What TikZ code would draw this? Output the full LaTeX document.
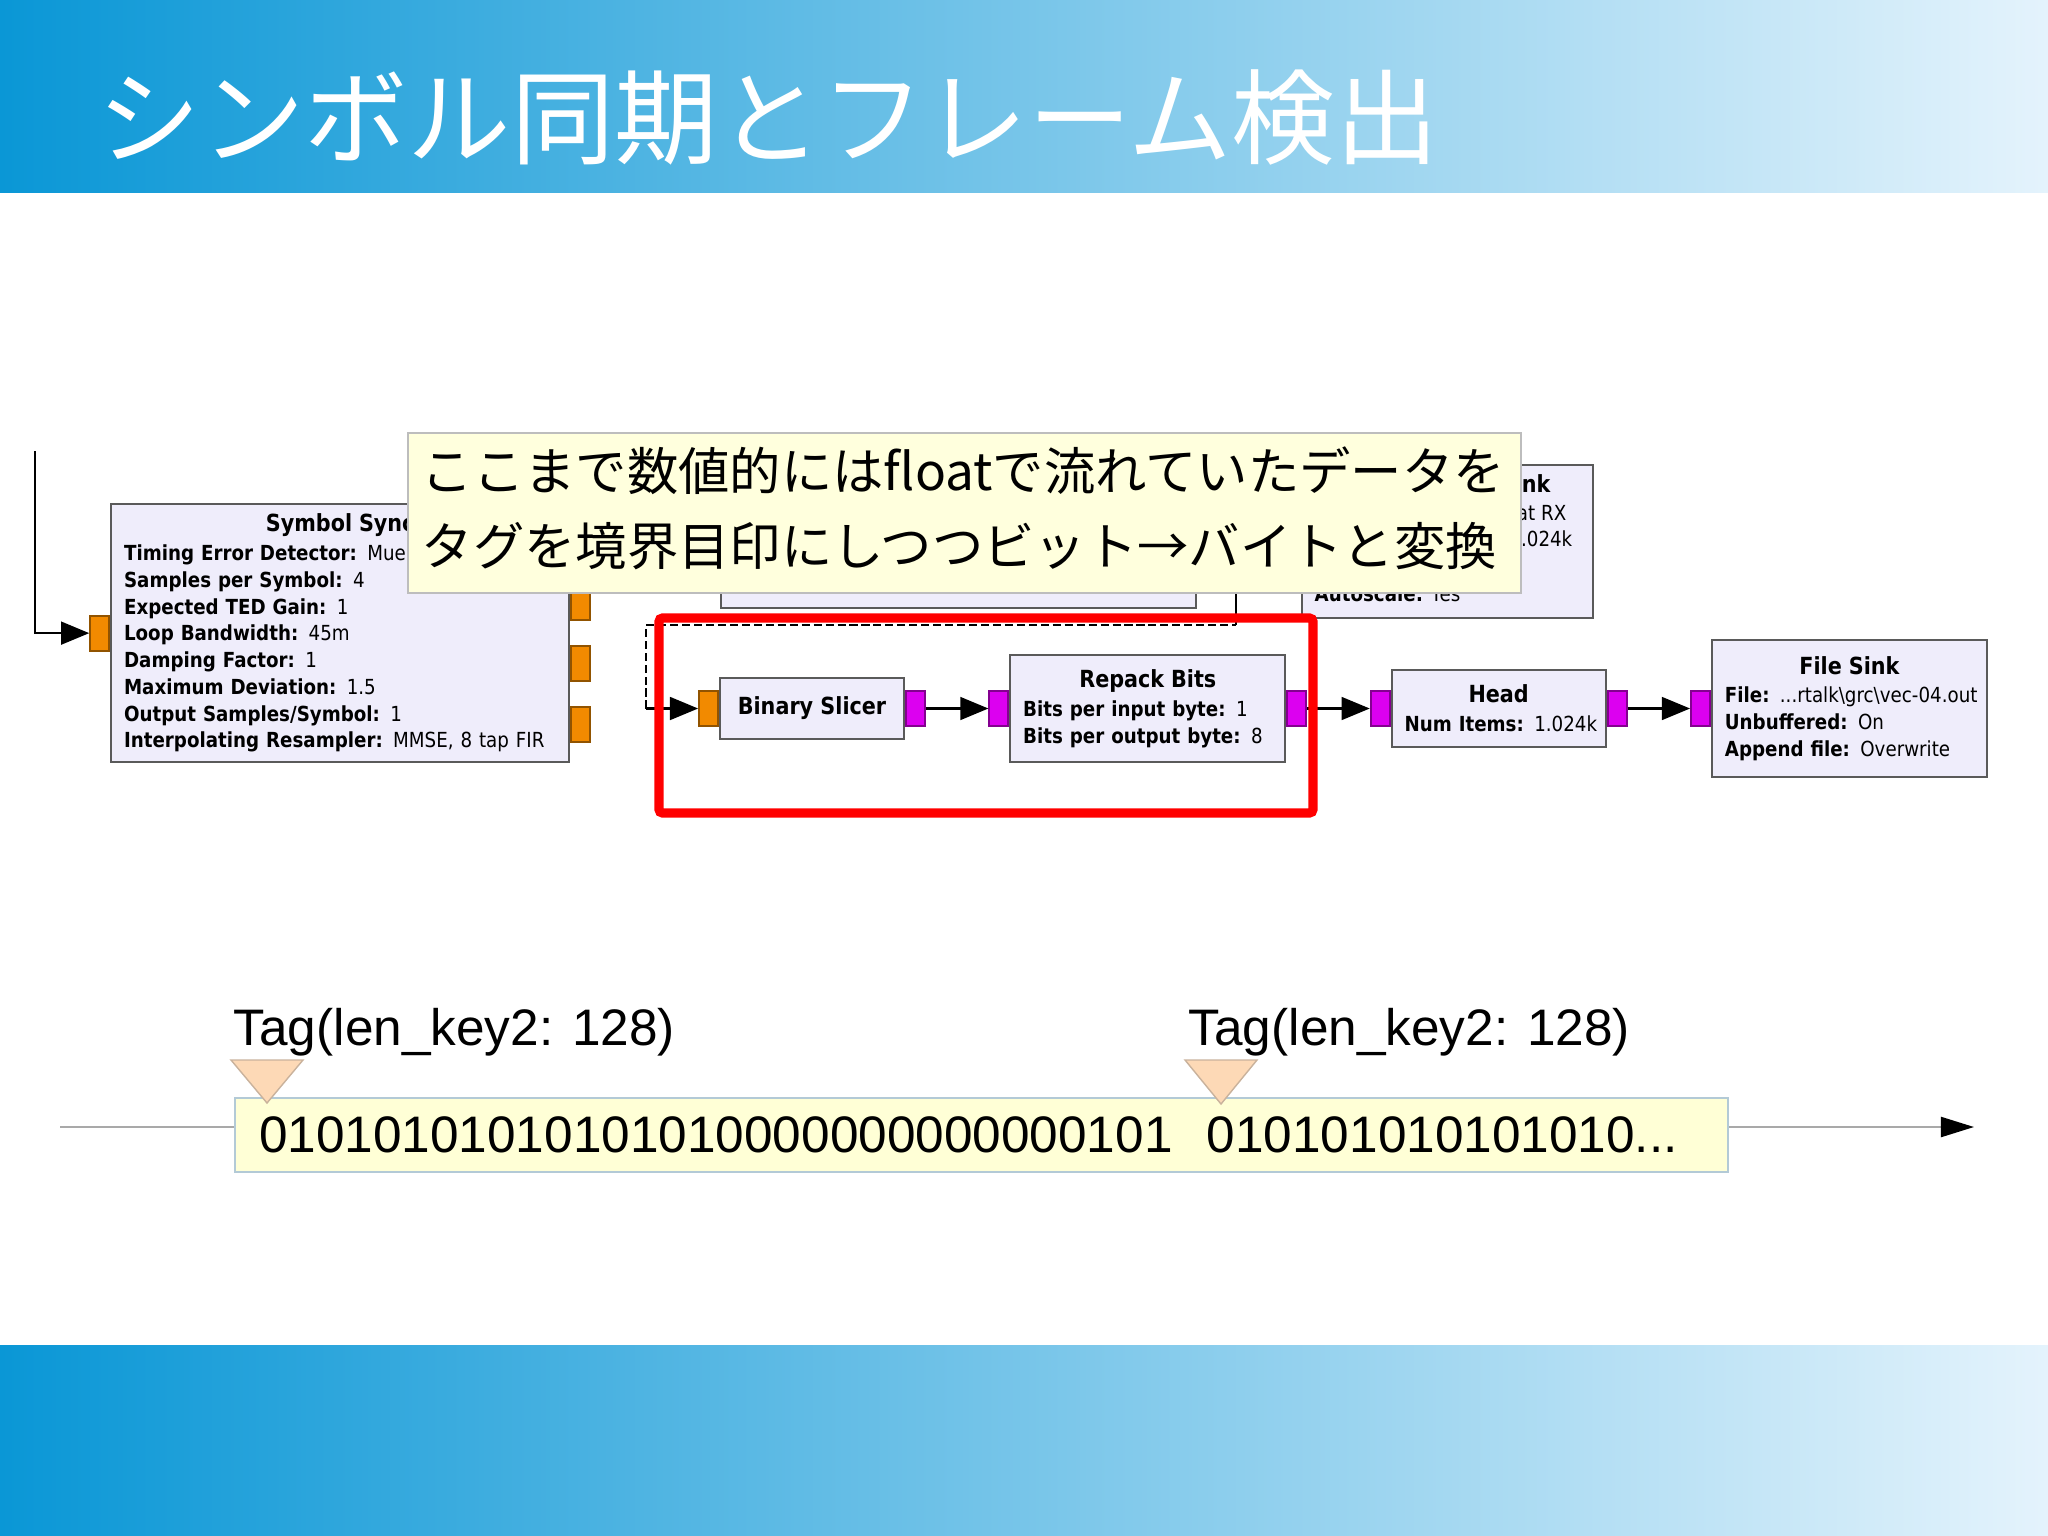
\documentclass[tikz,border=0pt]{standalone}
\usepackage{fontspec}
\setmainfont{Liberation Sans}
\newfontfamily\jpfont{Noto Sans CJK JP}
\newfontfamily\grcfont[FakeStretch=0.88]{DejaVu Sans}
\usepackage{tikz}
\usetikzlibrary{arrows.meta, positioning}
\setlength{\parindent}{0pt}

\definecolor{hdrdeep}{HTML}{0A97D6}
\definecolor{hdrpale}{HTML}{E4F3FC}
\definecolor{grcfill}{HTML}{EFEDFB}
\definecolor{grcedge}{HTML}{5A5A5A}
\definecolor{floatport}{HTML}{F28A00}
\definecolor{byteport}{HTML}{DC00F0}
\definecolor{notefill}{HTML}{FFFFDD}
\definecolor{noteedge}{HTML}{BDBDBD}
\definecolor{bitsfill}{HTML}{FFFFD6}
\definecolor{bitsedge}{HTML}{B3CAD6}
\definecolor{tagfill}{HTML}{FDD9B6}
\definecolor{tagedge}{HTML}{C9B29C}
\definecolor{axisgray}{HTML}{A9A9A9}

% block titles and parameter lines
\newcommand{\grcname}[1]{{\fontsize{6.7pt}{7.6pt}\selectfont\bfseries #1}}
\newcommand{\grctitle}[1]{\hfill\grcname{#1}\hfill\null}
\newcommand{\grckv}[2]{\mbox{\textbf{#1:} #2}}

\tikzset{
  % Flowgraph blocks
  grcblock/.style={
    rectangle, draw=grcedge, fill=grcfill, line width=0.6pt,
    inner xsep=0.13cm, inner ysep=0pt, align=left,
    font=\grcfont\fontsize{5.9pt}{7.6pt}\selectfont,
  },
  grctext/.style={inner sep=0pt, font=\grcfont\fontsize{5.9pt}{7.6pt}\selectfont},
  % Ports
  grcport/.style={
    rectangle, draw=#1!60!black, fill=#1, line width=0.5pt,
    minimum width=0.19cm, minimum height=0.35cm, inner sep=0pt,
  },
  grcport/.default={floatport},
  % Connections
  flow/.style={-{Triangle[length=8pt, width=6.5pt]}, line width=0.6pt, black},
  msgline/.style={line width=0.45pt, dash pattern=on 2.3pt off 1.1pt},
  wire/.style={line width=0.6pt},
  % Callout and highlight
  note/.style={rectangle, draw=noteedge, fill=notefill, line width=0.6pt, inner sep=0pt},
  notetext/.style={inner sep=0pt, font=\jpfont\fontsize{14.6pt}{21pt}\selectfont},
  hilite/.style={draw=red, line width=2.6pt, rounded corners=1pt},
  % Tagged stream
  bitsbox/.style={
    rectangle, draw=bitsedge, fill=bitsfill, line width=0.6pt,
    inner xsep=0.24cm, inner ysep=0pt, align=left,
    font=\fontsize{14.6pt}{17pt}\selectfont,
  },
  taglabel/.style={inner sep=0pt, font=\fontsize{14.6pt}{17pt}\selectfont},
  tagmark/.style={fill=tagfill, draw=tagedge, line width=0.4pt},
  timeline/.style={draw=axisgray, line width=0.6pt,
    -{Triangle[length=9.4pt, width=5.7pt, color=black]}},
  slidetitle/.style={inner sep=0pt, text=white, font=\jpfont\fontsize{29.4pt}{34pt}\selectfont},
}

\begin{document}
\begin{tikzpicture}[x=0.01cm, y=-0.01cm, node distance=1.04cm]
  \useasboundingbox (0,0) rectangle (2048,1536);

  % Header and footer bands
  \shade[left color=hdrdeep, right color=hdrpale] (0,0) rectangle (2048,192);
  \shade[left color=hdrdeep, right color=hdrpale] (0,1345) rectangle (2048,1536);
  \node[slidetitle, anchor=base west] (title) at (97,156) {シンボル同期とフレーム検出};

  % Symbol Sync
  \node[grcblock, text width=4.32cm, minimum height=2.58cm, anchor=north west] (sync) at (110,503) {
    \grctitle{Symbol Sync}\\[0.6pt]
    \grckv{Timing Error Detector}{Mueller and Müller}\\
    \grckv{Samples per Symbol}{4}\\
    \grckv{Expected TED Gain}{1}\\
    \grckv{Loop Bandwidth}{45m}\\
    \grckv{Damping Factor}{1}\\
    \grckv{Maximum Deviation}{1.5}\\
    \grckv{Output Samples/Symbol}{1}\\
    \grckv{Interpolating Resampler}{MMSE, 8 tap FIR}
  };
  \node[grcport, left=0pt of sync] (syncin) {};
  \node[grcport, anchor=west] (syncout1) at ([yshift=3.05mm]sync.east) {};
  \node[grcport, anchor=west] (syncout2) at ([yshift=-3.05mm]sync.east) {};
  \node[grcport, anchor=west] (syncout3) at ([yshift=-9.15mm]sync.east) {};

  % Slicer -> Repack -> Head -> File Sink
  \node[grcblock, align=center, minimum width=1.84cm, minimum height=0.61cm] (slicer) at (812,708.5) {\grcname{Binary Slicer}};
  \node[grcblock, text width=2.49cm, minimum height=1.07cm, right=of slicer] (repack) {
    \grctitle{Repack Bits}\\[0.6pt]
    \grckv{Bits per input byte}{1}\\
    \grckv{Bits per output byte}{8}
  };
  \node[grcblock, text width=1.88cm, minimum height=0.77cm, right=of repack] (head) {
    \grctitle{Head}\\[0.6pt]
    \grckv{Num Items}{1.024k}
  };
  \node[grcblock, text width=2.49cm, minimum height=1.37cm, right=of head] (filesink) {
    \grctitle{File Sink}\\[0.6pt]
    \grckv{File}{...rtalk\textbackslash grc\textbackslash vec-04.out}\\
    \grckv{Unbuffered}{On}\\
    \grckv{Append file}{Overwrite}
  };
  \node[grcport, left=0pt of slicer] (slicerin) {};
  \node[grcport=byteport, right=0pt of slicer] (slicerout) {};
  \node[grcport=byteport, left=0pt of repack] (repackin) {};
  \node[grcport=byteport, right=0pt of repack] (repackout) {};
  \node[grcport=byteport, left=0pt of head] (headin) {};
  \node[grcport=byteport, right=0pt of head] (headout) {};
  \node[grcport=byteport, left=0pt of filesink] (filesinkin) {};

  % Blocks partly under the callout
  \node[grcblock, anchor=south west, minimum width=4.75cm, minimum height=1.3cm] (covered) at (720,609) {};
  \node[grcblock, anchor=north west, minimum width=2.91cm, minimum height=1.53cm] (scope) at (1301,464) {};
  \node[grctext, anchor=base east] (scopename) at (1551,492) {\grcname{nk}};
  \node[grctext, anchor=base east] (scopeval1) at (1567,520) {at RX};
  \node[grctext, anchor=base east] (scopeval2) at (1573,546) {1.024k};
  \node[grctext, anchor=base west] (scopeauto) at (1314,601) {\grckv{Autoscale}{Yes}};

  % Connections
  \coordinate (fbtop) at (35,451);
  \coordinate (tagjoin) at (646,708.5);
  \coordinate (msgturn) at (1236,625);
  \coordinate (risetop) at (1236,560);
  \draw[flow] (fbtop) |- (syncin);
  \draw[msgline] (tagjoin) |- (msgturn);
  \draw[wire] (msgturn) -- (risetop);
  \draw[flow] (tagjoin) -- (slicerin);
  \draw[flow] (slicerout) -- (repackin);
  \draw[flow] (repackout) -- (headin);
  \draw[flow] (headout) -- (filesinkin);

  % Callout
  \node[note, anchor=north west, minimum width=11.12cm, minimum height=1.6cm] (note) at (407,432) {};
  \node[notetext, anchor=base west] (noteline1) at (421,490) {ここまで数値的にはfloatで流れていたデータを};
  \node[notetext, anchor=base west] (noteline2) at (421,565) {タグを境界目印にしつつビット→バイトと変換};

  \draw[hilite] (659,618) rectangle (1313,813);

  % Tagged bit stream
  \coordinate (tlstart) at (60,1127);
  \coordinate (tlend) at (1974,1127);
  \draw[timeline] (tlstart) -- (tlend);
  \node[bitsbox, text width=14.44cm, minimum height=0.74cm, anchor=north west] (bits) at (234,1097)
    {01010101010101010000000000000101~~010101010101010...};
  \node[taglabel, anchor=base west] (tag1) at (233,1045) {Tag(len\_key2: 128)};
  \node[taglabel, anchor=base west] (tag2) at (1188,1045) {Tag(len\_key2: 128)};
  \draw[tagmark] (231,1060) -- (303,1060) -- (267,1103) -- cycle;
  \draw[tagmark] (1185,1060) -- (1257,1060) -- (1221,1104) -- cycle;

\end{tikzpicture}
\end{document}
